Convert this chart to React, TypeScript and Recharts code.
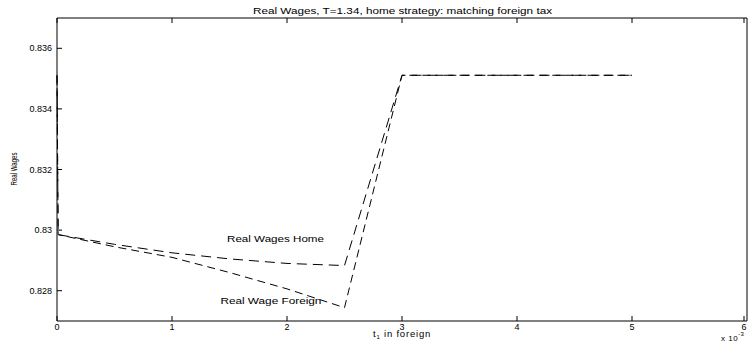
import React from 'react'
import { LineChart, Line, XAxis, YAxis, ReferenceDot } from 'recharts'

const FONT = '"Liberation Sans", Arial, Helvetica, sans-serif'

// t1 in foreign (x 10^-3)
const taxLevels = [0, 0.01, 0.5, 1, 1.5, 2, 2.5, 3, 3.5, 4, 4.5, 5]
const homeWages = [0.83511, 0.82985, 0.82953, 0.82925, 0.82905, 0.8289, 0.82883, 0.83511, 0.83511, 0.83511, 0.83511, 0.83511]
const foreignWages = [0.83511, 0.82985, 0.82945, 0.8291, 0.8286, 0.82806, 0.82744, 0.83511, 0.83511, 0.83511, 0.83511, 0.83511]

const xTicks = [0, 1, 2, 3, 4, 5, 6]
const yTicks = [0.828, 0.83, 0.832, 0.834, 0.836]

const rows = taxLevels.map((x, i) => ({ x, home: homeWages[i], foreign: foreignWages[i] }))

const fmtY = (v: number) => String(+v.toFixed(3))

const BottomTick = ({ x, y, payload }: any) => (
  <g>
    <line x1={x} x2={x} y1={y} y2={y - 5} stroke="#000" />
    <text x={x} y={y + 9} textAnchor="middle" fontSize={9} fontFamily={FONT} fill="#000">
      {payload.value}
    </text>
  </g>
)

const LeftTick = ({ x, y, payload }: any) => (
  <g>
    <line x1={x} x2={x + 5} y1={y} y2={y} stroke="#000" />
    <text x={x - 5} y={y + 3} textAnchor="end" fontSize={9} fontFamily={FONT} fill="#000">
      {fmtY(payload.value)}
    </text>
  </g>
)

const TopTick = ({ x, y }: any) => <line x1={x} x2={x} y1={y} y2={y + 5} stroke="#000" />
const RightTick = ({ x, y }: any) => <line x1={x} x2={x - 5} y1={y} y2={y} stroke="#000" />

// annotation text centred on a reference dot, stretched like the matlab print
const DotLabel = ({ viewBox, text, len }: any) => (
  <text x={viewBox.x + viewBox.width / 2} y={viewBox.y + viewBox.height / 2 + 3} textAnchor="middle"
    fontSize={9} fontFamily={FONT} fill="#000" textLength={len} lengthAdjust="spacingAndGlyphs">
    {text}
  </text>
)

export default function App() {
  return (
    <div style={{ position: 'relative', width: 748, height: 344, background: '#fff' }}>
      <style>{'body{margin:0}'}</style>
      <LineChart width={748} height={344} data={rows} margin={{ top: 17, right: 0, bottom: 0, left: 0 }}>
        <XAxis dataKey="x" type="number" domain={[0, 6]} ticks={xTicks} height={23}
          tickSize={0} tickMargin={0} tick={<BottomTick />} stroke="#000" />
        <XAxis xAxisId="top" orientation="top" dataKey="x" type="number" domain={[0, 6]} ticks={xTicks}
          height={1} tickSize={0} tickMargin={0} tick={<TopTick />} stroke="#000" />
        <YAxis type="number" domain={[0.827, 0.837]} ticks={yTicks} width={57}
          tickSize={0} tickMargin={0} tick={<LeftTick />} stroke="#000" />
        <YAxis yAxisId="right" orientation="right" type="number" domain={[0.827, 0.837]} ticks={yTicks}
          width={1} tickSize={0} tickMargin={0} tick={<RightTick />} stroke="#000" />
        <Line dataKey="home" stroke="#000" strokeWidth={1} strokeDasharray="10 6" dot={false} isAnimationActive={false} />
        <Line dataKey="foreign" stroke="#000" strokeWidth={1} strokeDasharray="8 5" dot={false} isAnimationActive={false} />
        <ReferenceDot x={1.9} y={0.82972} r={0} fill="none" stroke="none"
          label={<DotLabel text="Real Wages Home" len={97} />} />
        <ReferenceDot x={1.86} y={0.82767} r={0} fill="none" stroke="none"
          label={<DotLabel text="Real Wage Foreign" len={101} />} />
      </LineChart>
      <svg width={748} height={344} style={{ position: 'absolute', left: 0, top: 0, pointerEvents: 'none' }}
        fontFamily={FONT} fill="#000">
        <text x={402.5} y={14} textAnchor="middle" fontSize={9} textLength={299} lengthAdjust="spacingAndGlyphs">
          Real Wages, T=1.34, home strategy: matching foreign tax
        </text>
        <text x={0} y={0} transform="translate(17,169) rotate(-90)" textAnchor="middle" fontSize={9}
          textLength={33} lengthAdjust="spacingAndGlyphs">Real Wages</text>
        <text x={402} y={337} textAnchor="middle" fontSize={9.5} letterSpacing={0.8}>
          t<tspan fontSize={6} dy={2}>1</tspan><tspan dy={-2}> in foreign</tspan>
        </text>
        <text x={721} y={341} fontSize={8} letterSpacing={0.5}>
          x 10<tspan fontSize={6} dy={-5}>-3</tspan>
        </text>
      </svg>
    </div>
  )
}
